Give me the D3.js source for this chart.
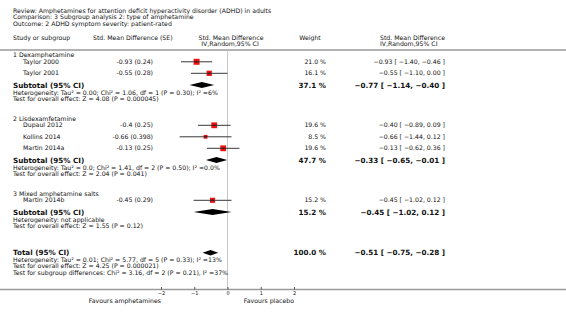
<!DOCTYPE html>
<html>
<head>
<meta charset="utf-8">
<script src="https://cdn.jsdelivr.net/npm/d3@7"></script>
<style>
  body { margin: 0; background: #fff; }
  svg { display: block; font-family: "DejaVu Sans", Verdana, sans-serif; }
</style>
</head>
<body>
<div id="chart"></div>
<script>
// --- data ---
const titleLines = [
  "Review:  Amphetamines for attention deficit hyperactivity disorder (ADHD) in adults",
  "Comparison:  3 Subgroup analysis 2: type of amphetamine",
  "Outcome:  2 ADHD symptom severity: patient-rated"
];

const groupNames = ["1 Dexamphetamine", "2 Lisdexamfetamine", "3 Mixed amphetamine salts"];

const studyNames = ["Taylor 2000", "Taylor 2001", "Dupaul 2012", "Kollins 2014", "Martin 2014a", "Martin 2014b"];
const studyGroup = [0, 0, 1, 1, 1, 2];
const studySE = ["-0.93 (0.24)", "-0.55 (0.28)", "-0.4 (0.25)", "-0.66 (0.398)", "-0.13 (0.25)", "-0.45 (0.29)"];
const studyEst = [-0.93, -0.55, -0.40, -0.66, -0.13, -0.45];
const studyLo = [-1.40, -1.10, -0.89, -1.44, -0.62, -1.02];
const studyHi = [-0.46, 0.00, 0.09, 0.12, 0.36, 0.12];
const studyWeight = [21.0, 16.1, 19.6, 8.5, 19.6, 15.2];

const subEst = [-0.77, -0.33, -0.45];
const subLo = [-1.14, -0.65, -1.02];
const subHi = [-0.40, -0.01, 0.12];
const subWeight = [37.1, 47.7, 15.2];
const subHet = [
  "Heterogeneity: Tau\u00b2 = 0.00; Chi\u00b2 = 1.06, df = 1 (P = 0.30); I\u00b2 =6%",
  "Heterogeneity: Tau\u00b2 = 0.0; Chi\u00b2 = 1.41, df = 2 (P = 0.50); I\u00b2 =0.0%",
  "Heterogeneity: not applicable"
];
const subTest = [
  "Test for overall effect: Z = 4.08 (P = 0.000045)",
  "Test for overall effect: Z = 2.04 (P = 0.041)",
  "Test for overall effect: Z = 1.55 (P = 0.12)"
];

const totalEst = -0.51, totalLo = -0.75, totalHi = -0.28, totalWeight = 100.0;
const totalNotes = [
  "Heterogeneity: Tau\u00b2 = 0.01; Chi\u00b2 = 5.77, df = 5 (P = 0.33); I\u00b2 =13%",
  "Test for overall effect: Z = 4.25 (P = 0.000021)",
  "Test for subgroup differences: Chi\u00b2 = 3.16, df = 2 (P = 0.21), I\u00b2 =37%"
];

const axisTicks = [-2, -1, 0, 1, 2];
const favourLeft = "Favours amphetamines";
const favourRight = "Favours placebo";

// --- layout ---
const W = 566, H = 312;
const fs = 6.2, fsBold = 7.2, fsTick = 5;
const col = { group: 13, study: 23, seHead: 93, seRight: 153, weightHead: 310, weightRight: 326, ciHead: 380, ciRight: 445 };
const headerLineY = 50, axisY = 289.5;

const x = d3.scaleLinear().domain([-2, 2]).range([161, 294]);
const size = d3.scaleSqrt().domain([0, 21]).range([0, 6]);
const fmt = d3.format(".2f");
const ciText = (e, l, h) => `${fmt(e)} [ ${fmt(l)}, ${fmt(h)} ]`;
const pct = w => `${w.toFixed(1)} %`;

const svg = d3.select("#chart").append("svg")
  .attr("width", W).attr("height", H);
svg.append("rect").attr("width", W).attr("height", H).attr("fill", "#fff");

function text(g, str, xx, yy, opts = {}) {
  return g.append("text")
    .attr("x", xx).attr("y", yy).attr("dy", "0.35em")
    .attr("text-anchor", opts.anchor || "start")
    .attr("font-size", opts.size || fs)
    .attr("font-weight", opts.bold ? "bold" : null)
    .attr("fill", "#111")
    .text(str);
}

// title block
titleLines.forEach((t, i) => text(svg, t, 13, 10.8 + i * 6.5));

// column headers
text(svg, "Study or subgroup", 13, 38);
text(svg, "Std. Mean Difference (SE)", col.seHead, 38);
text(svg, "Std. Mean Difference", 231, 38, { anchor: "middle" });
text(svg, "IV,Random,95% CI", 230, 44.3, { anchor: "middle" });
text(svg, "Weight", col.weightHead, 38, { anchor: "middle" });
text(svg, "Std. Mean Difference", col.ciHead, 38);
text(svg, "IV,Random,95% CI", col.ciHead, 44.3);

// gray rules
svg.append("line").attr("x1", 0).attr("x2", W).attr("y1", headerLineY).attr("y2", headerLineY)
  .attr("stroke", "#9a9a9a").attr("stroke-width", 1.5);
svg.append("line").attr("x1", x(0)).attr("x2", x(0)).attr("y1", headerLineY).attr("y2", axisY)
  .attr("stroke", "#c8c8c8").attr("stroke-width", 1);

const body = svg.append("g");

function diamond(est, lo, hi, yy, h) {
  body.append("path")
    .attr("d", `M${x(lo)},${yy}L${x(est)},${yy - h}L${x(hi)},${yy}L${x(est)},${yy + h}Z`)
    .attr("fill", "#000");
}

// rows
let y = 55.3;
groupNames.forEach((gName, gi) => {
  text(body, gName, col.group, y);
  y += 6.5;
  studyNames.forEach((name, i) => {
    if (studyGroup[i] !== gi) return;
    text(body, name, col.study, y);
    text(body, studySE[i], col.seRight, y, { anchor: "end" });
    text(body, pct(studyWeight[i]), col.weightRight, y, { anchor: "end" });
    text(body, ciText(studyEst[i], studyLo[i], studyHi[i]), col.ciRight, y, { anchor: "end" });
    const s = size(studyWeight[i]);
    body.append("rect")
      .attr("x", x(studyEst[i]) - s / 2).attr("y", y - s / 2)
      .attr("width", s).attr("height", s)
      .attr("fill", "#f01010");
    body.append("line")
      .attr("x1", x(studyLo[i])).attr("x2", x(studyHi[i]))
      .attr("y1", y).attr("y2", y)
      .attr("stroke", "#222").attr("stroke-width", 0.9);
    body.append("line")
      .attr("x1", x(studyEst[i])).attr("x2", x(studyEst[i]))
      .attr("y1", y - 1.2).attr("y2", y + 1.2)
      .attr("stroke", "#222").attr("stroke-width", 0.6);
    y += 11.5;
  });
  y += 0.3;
  text(body, "Subtotal (95% CI)", col.group, y, { size: fsBold, bold: true });
  text(body, pct(subWeight[gi]), col.weightRight, y, { size: fsBold, bold: true, anchor: "end" });
  text(body, ciText(subEst[gi], subLo[gi], subHi[gi]), col.ciRight, y, { size: fsBold, bold: true, anchor: "end" });
  diamond(subEst[gi], subLo[gi], subHi[gi], y, 3);
  y += 7.4;
  text(body, subHet[gi], col.group, y);
  y += 6.3;
  text(body, subTest[gi], col.group, y);
  y += 20;
});

y += 7;
text(body, "Total (95% CI)", col.group, y, { size: fsBold, bold: true });
text(body, pct(totalWeight), col.weightRight, y, { size: fsBold, bold: true, anchor: "end" });
text(body, ciText(totalEst, totalLo, totalHi), col.ciRight, y, { size: fsBold, bold: true, anchor: "end" });
diamond(totalEst, totalLo, totalHi, y, 2.8);
y += 7.2;
totalNotes.forEach(t => { text(body, t, col.group, y); y += 6.3; });

// axis
svg.append("line").attr("x1", 0).attr("x2", W).attr("y1", axisY).attr("y2", axisY)
  .attr("stroke", "#9a9a9a").attr("stroke-width", 1.5);
const ax = svg.append("g").attr("transform", `translate(0,${axisY})`)
  .call(d3.axisBottom(x).tickValues(axisTicks).tickFormat(d3.format("d"))
    .tickSizeInner(-2.5).tickSizeOuter(0).tickPadding(1.5));
ax.select(".domain").remove();
ax.selectAll(".tick line").attr("stroke", "#333").attr("stroke-width", 0.8);
ax.selectAll(".tick text").attr("font-size", fsTick).attr("font-family", "DejaVu Sans").attr("fill", "#111");

text(svg, favourLeft, x(-2), 300.5, { anchor: "end" });
text(svg, favourRight, x(2), 300.5, { anchor: "end" });
</script>
</body>
</html>
